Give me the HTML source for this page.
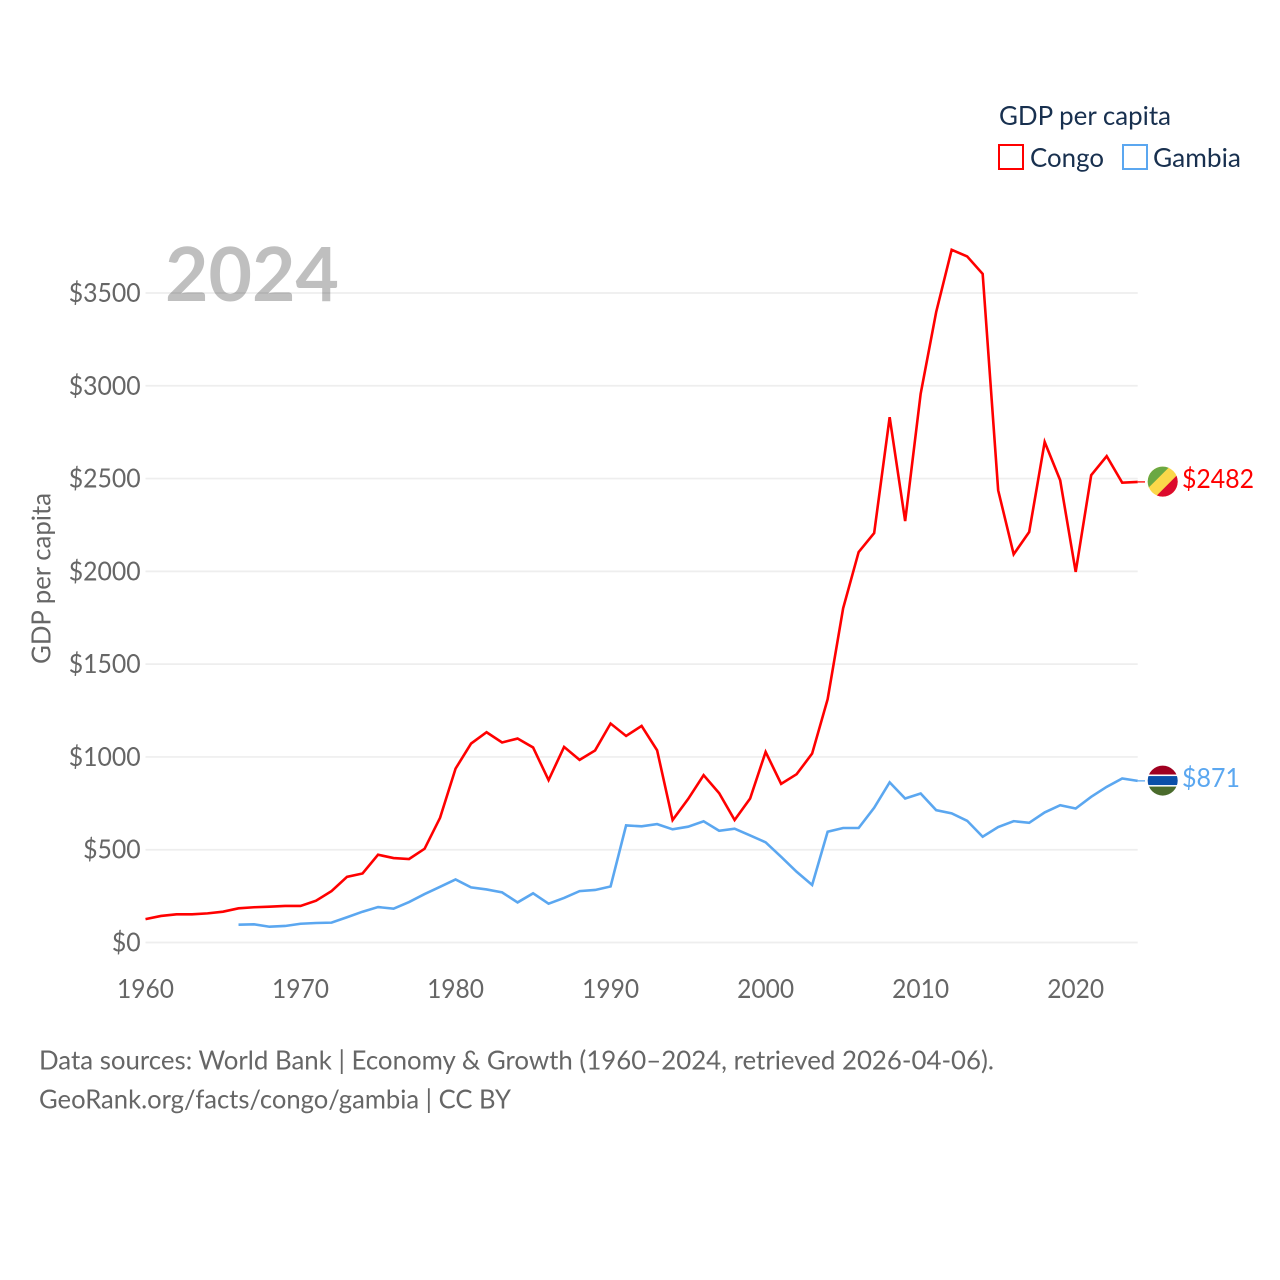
<!DOCTYPE html>
<html lang="en">
<head>
<meta charset="utf-8">
<title>GDP per capita: Congo and Gambia</title>
<style>
  html, body { margin: 0; padding: 0; background: #fff; }
  svg { display: block; }
  text { font-family: "Lato", "Carlito", "Liberation Sans", sans-serif; }
</style>
</head>
<body>
<svg id="chart" xmlns="http://www.w3.org/2000/svg" width="1280" height="1280" viewBox="0 0 1280 1280">
  <defs>
    <clipPath id="flag-clip"><circle cx="0" cy="0" r="15"></circle></clipPath>
  </defs>
  <rect x="0" y="0" width="1280" height="1280" fill="#ffffff"></rect>
  <g id="grid"></g>
  <g id="y-ticks"></g>
  <g id="x-ticks"></g>
  <text x="165" y="301" font-size="75" font-weight="700" fill="#000" fill-opacity="0.25">2024</text>
  <text transform="translate(50.7,578.5) rotate(-90)" text-anchor="middle" font-size="26" fill="#666666" textLength="171" lengthAdjust="spacingAndGlyphs">GDP per capita</text>
  <g id="series"></g>
  <g id="end-labels"></g>

  <g>
    <text x="999" y="125" font-size="26" fill="#18304f" textLength="172" lengthAdjust="spacingAndGlyphs">GDP per capita</text>
    <g>
      <rect x="999" y="145" width="24" height="24" fill="none" stroke="#ff0000" stroke-width="2"></rect>
      <text x="1030" y="167" font-size="26" fill="#18304f" textLength="74" lengthAdjust="spacingAndGlyphs">Congo</text>
    </g>
    <g>
      <rect x="1123" y="145" width="24" height="24" fill="none" stroke="#5ba7f0" stroke-width="2"></rect>
      <text x="1153" y="167" font-size="26" fill="#18304f" textLength="88" lengthAdjust="spacingAndGlyphs">Gambia</text>
    </g>
  </g>

  <text x="39" y="1069.5" font-size="26" fill="#666666" textLength="955" lengthAdjust="spacingAndGlyphs">Data sources: World Bank | Economy &amp; Growth (1960–2024, retrieved 2026-04-06).</text>
  <text x="39" y="1108.5" font-size="26" fill="#666666" textLength="472" lengthAdjust="spacingAndGlyphs">GeoRank.org/facts/congo/gambia | CC BY</text>
</svg>

<script>
const years = [1960,1961,1962,1963,1964,1965,1966,1967,1968,1969,1970,1971,1972,1973,1974,1975,1976,1977,1978,1979,1980,1981,1982,1983,1984,1985,1986,1987,1988,1989,1990,1991,1992,1993,1994,1995,1996,1997,1998,1999,2000,2001,2002,2003,2004,2005,2006,2007,2008,2009,2010,2011,2012,2013,2014,2015,2016,2017,2018,2019,2020,2021,2022,2023,2024];
const congoValues = [126,143,152,152,157,166,184,190,193,197,197,225,277,354,372,473,455,450,505,672,937,1072,1133,1078,1099,1051,875,1054,984,1035,1180,1113,1167,1036,660,773,902,805,660,776,1027,855,907,1018,1311,1801,2104,2206,2831,2271,2957,3397,3733,3697,3603,2437,2092,2212,2697,2491,1997,2518,2621,2478,2482];
const gambiaValues = [null,null,null,null,null,null,96,98,85,89,101,105,107,136,166,191,182,218,261,300,340,297,286,270,216,265,209,240,277,283,302,631,626,638,610,624,653,602,613,577,540,462,381,310,597,617,617,726,863,776,803,713,696,656,570,622,654,645,701,740,722,785,839,884,871];
const yTickValues = [0,500,1000,1500,2000,2500,3000,3500];
const yTickLabels = ["$0","$500","$1000","$1500","$2000","$2500","$3000","$3500"];
const xTickValues = [1960,1970,1980,1990,2000,2010,2020];
const xTickLabels = ["1960","1970","1980","1990","2000","2010","2020"];

const NS = "http://www.w3.org/2000/svg";
const plotLeft = 145.5, plotRight = 1137.7, plotBottom = 942.5, plotTopAt3500 = 293;

function xScale(year) { return plotLeft + (year - 1960) * (plotRight - plotLeft) / 64; }
function yScale(value) { return plotBottom - value * (plotBottom - plotTopAt3500) / 3500; }

function make(tag, attrs, parent) {
  const el = document.createElementNS(NS, tag);
  for (const k in attrs) el.setAttribute(k, attrs[k]);
  parent.appendChild(el);
  return el;
}

const gridLayer = document.getElementById("grid");
const yLayer = document.getElementById("y-ticks");
yTickValues.forEach(function (v, i) {
  const line = make("line", { x1: plotLeft, x2: plotRight, y1: yScale(v), y2: yScale(v), stroke: "#eeeeee", "stroke-width": 1.7 }, gridLayer);
  
  
  const label = make("text", { x: 140.7, y: yScale(v) + 9, "text-anchor": "end", "font-size": 26, fill: "#666666", textLength: yTickLabels[i].length * 14.4, lengthAdjust: "spacingAndGlyphs" }, yLayer);
  
  
  label.textContent = yTickLabels[i];
});

const xLayer = document.getElementById("x-ticks");
xTickValues.forEach(function (v, i) {
  const label = make("text", { x: xScale(v), y: 998.2, "text-anchor": "middle", "font-size": 26, fill: "#666666", textLength: 57, lengthAdjust: "spacingAndGlyphs" }, xLayer);
  
  
  label.textContent = xTickLabels[i];
});

function linePath(values) {
  let d = "", pen = false;
  values.forEach(function (v, i) {
    if (v === null) { pen = false; return; }
    d += (pen ? "L" : "M") + xScale(years[i]).toFixed(2) + " " + yScale(v).toFixed(2);
    pen = true;
  });
  return d;
}

const seriesLayer = document.getElementById("series");
const congoLine = make("path", { d: linePath(congoValues), fill: "none", stroke: "#ff0000", "stroke-width": 2.6, "stroke-linejoin": "miter" }, seriesLayer);


const gambiaLine = make("path", { d: linePath(gambiaValues), fill: "none", stroke: "#5ba7f0", "stroke-width": 2.6, "stroke-linejoin": "miter" }, seriesLayer);



const endLayer = document.getElementById("end-labels");
const flagX = 1162.7;

function lastValue(values) { return values[values.length - 1]; }

/* Congo end marker */
const congoY = yScale(lastValue(congoValues));
const congoConnector = make("line", { x1: plotRight, x2: 1145, y1: congoY, y2: congoY, stroke: "#ff0000", "stroke-width": 1.3 }, endLayer);


const congoFlag = make("g", { transform: "translate(" + flagX + "," + (congoY - 0.3) + ")", "clip-path": "url(#flag-clip)" }, endLayer);


make("rect", { x: -16, y: -16, width: 32, height: 32, fill: "#fbd84a" }, congoFlag);
make("polygon", { points: "-16,-16 8,-16 -16,8", fill: "#6aa843" }, congoFlag);
make("polygon", { points: "16,16 -8,16 16,-8", fill: "#dc0a2d" }, congoFlag);
const congoLabel = make("text", { x: 1182, y: congoY + 6, "font-size": 26, fill: "#ff0000", textLength: 72, lengthAdjust: "spacingAndGlyphs" }, endLayer);


congoLabel.textContent = "$" + lastValue(congoValues);

/* Gambia end marker */
const gambiaY = yScale(lastValue(gambiaValues));
const gambiaConnector = make("line", { x1: plotRight, x2: 1145, y1: gambiaY, y2: gambiaY, stroke: "#5ba7f0", "stroke-width": 1.3 }, endLayer);


const gambiaFlag = make("g", { transform: "translate(" + flagX + "," + (gambiaY - 0.3) + ")", "clip-path": "url(#flag-clip)" }, endLayer);


make("rect", { x: -16, y: -16, width: 32, height: 10, fill: "#a00020" }, gambiaFlag);
make("rect", { x: -16, y: -6, width: 32, height: 12, fill: "#ffffff" }, gambiaFlag);
make("rect", { x: -16, y: -4.5, width: 32, height: 9, fill: "#0a4fa8" }, gambiaFlag);
make("rect", { x: -16, y: 6, width: 32, height: 10, fill: "#4a6b2c" }, gambiaFlag);
const gambiaLabel = make("text", { x: 1182, y: gambiaY + 6, "font-size": 26, fill: "#5ba7f0", textLength: 58, lengthAdjust: "spacingAndGlyphs" }, endLayer);


gambiaLabel.textContent = "$" + lastValue(gambiaValues);
</script>
</body>
</html>
